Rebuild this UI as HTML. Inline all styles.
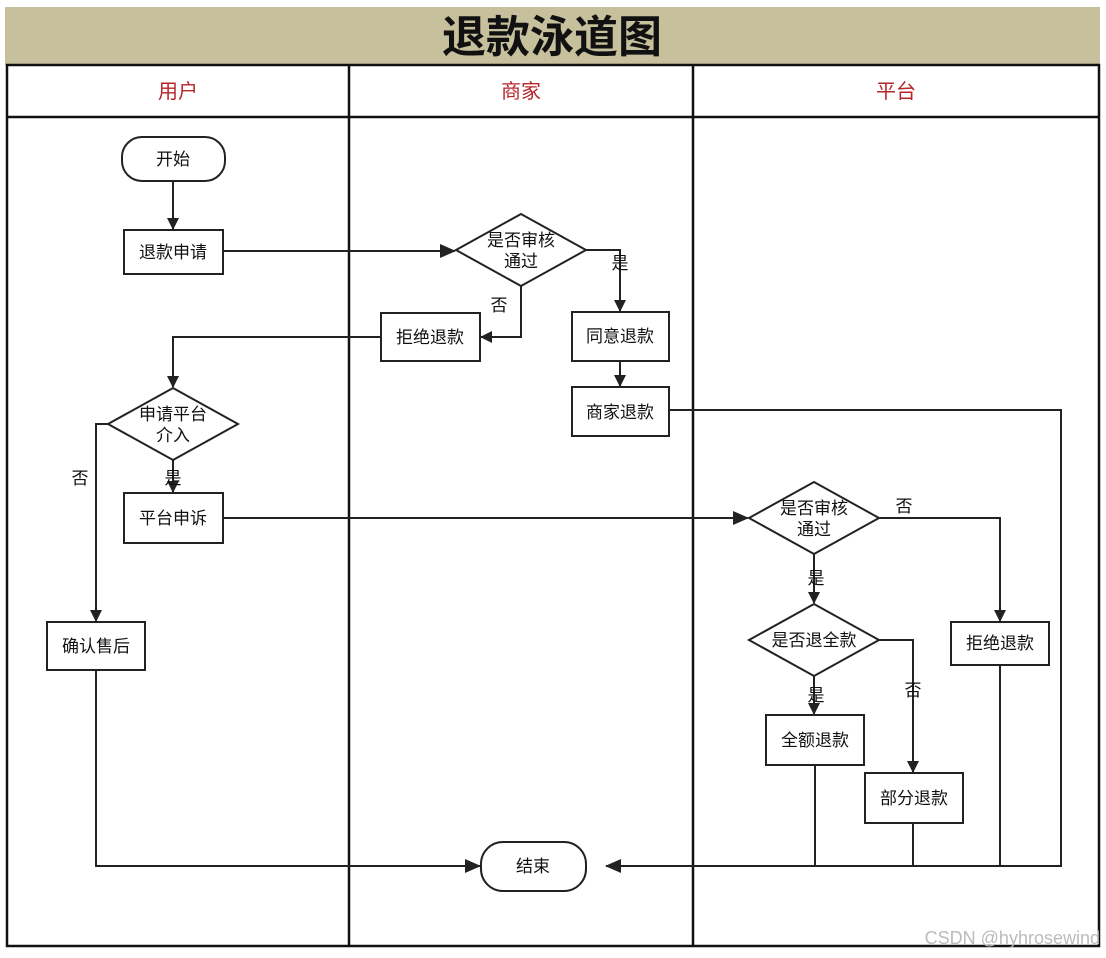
<!DOCTYPE html>
<html><head><meta charset="utf-8"><style>
body{margin:0;background:#fff}
svg{display:block}
text{font-family:"Liberation Sans","Noto Sans CJK SC",sans-serif}
</style></head><body>
<svg width="1106" height="958" viewBox="0 0 1106 958" xmlns="http://www.w3.org/2000/svg">
<defs><marker id="a" markerWidth="12" markerHeight="12" refX="11" refY="6" orient="auto" markerUnits="userSpaceOnUse"><path d="M0,0 L12,6 L0,12 z" fill="#222"/></marker>
<marker id="b" markerWidth="16" markerHeight="14" refX="15" refY="7" orient="auto" markerUnits="userSpaceOnUse"><path d="M0,0 L16,7 L0,14 z" fill="#222"/></marker></defs>
<rect x="5" y="7" width="1095" height="58" fill="#c6c09c"/>
<text x="552" y="52" font-size="44" font-weight="bold" text-anchor="middle" fill="#111">退款泳道图</text>
<g stroke="#111" stroke-width="2.5" fill="none">
<rect x="7" y="65" width="1092" height="881"/>
<line x1="7" y1="117" x2="1099" y2="117"/>
<line x1="349" y1="65" x2="349" y2="946"/>
<line x1="693" y1="65" x2="693" y2="946"/>
</g>
<g font-size="20" fill="#b5252a" text-anchor="middle">
<text x="178" y="98">用户</text><text x="521" y="98">商家</text><text x="896" y="98">平台</text></g>
<g stroke="#222" stroke-width="2" fill="#fff">
<rect x="122" y="137" width="103" height="44" rx="20"/>
<rect x="124" y="230" width="99" height="44"/>
<polygon points="456,250 521,214 586,250 521,286"/>
<rect x="572" y="312" width="97" height="49"/>
<rect x="381" y="313" width="99" height="48"/>
<polygon points="108,424 173,388 238,424 173,460"/>
<rect x="572" y="387" width="97" height="49"/>
<rect x="124" y="493" width="99" height="50"/>
<rect x="47" y="622" width="98" height="48"/>
<rect x="481" y="842" width="105" height="49" rx="22"/>
<polygon points="749,518 814,482 879,518 814,554"/>
<rect x="951" y="622" width="98" height="43"/>
<polygon points="749,640 814,604 879,640 814,676"/>
<rect x="766" y="715" width="98" height="50"/>
<rect x="865" y="773" width="98" height="50"/>
</g>
<g stroke="#222" stroke-width="2" fill="none">
<line x1="173" y1="181" x2="173" y2="229" marker-end="url(#a)"/>
<line x1="223" y1="251" x2="455" y2="251" marker-end="url(#b)"/>
<polyline points="586,250 620,250 620,311" marker-end="url(#a)"/>
<polyline points="521,286 521,337 481,337" marker-end="url(#a)"/>
<polyline points="381,337 173,337 173,387" marker-end="url(#a)"/>
<line x1="620" y1="361" x2="620" y2="386" marker-end="url(#a)"/>
<polyline points="669,410 1061,410 1061,866 606,866" marker-end="url(#b)"/>
<line x1="173" y1="460" x2="173" y2="492" marker-end="url(#a)"/>
<line x1="223" y1="518" x2="748" y2="518" marker-end="url(#b)"/>
<polyline points="108,424 96,424 96,621" marker-end="url(#a)"/>
<polyline points="96,670 96,866 480,866" marker-end="url(#b)"/>
<polyline points="879,518 1000,518 1000,621" marker-end="url(#a)"/>
<line x1="814" y1="554" x2="814" y2="603" marker-end="url(#a)"/>
<polyline points="879,640 913,640 913,772" marker-end="url(#a)"/>
<line x1="814" y1="676" x2="814" y2="714" marker-end="url(#a)"/>
<line x1="815" y1="765" x2="815" y2="866"/>
<line x1="913" y1="823" x2="913" y2="866"/>
<line x1="1000" y1="665" x2="1000" y2="866"/>
</g>
<g font-size="17" fill="#111" text-anchor="middle">
<text x="173" y="165">开始</text>
<text x="173" y="258">退款申请</text>
<text x="521" y="246">是否审核</text><text x="521" y="267">通过</text>
<text x="620" y="342">同意退款</text>
<text x="430" y="343">拒绝退款</text>
<text x="173" y="420">申请平台</text><text x="173" y="441">介入</text>
<text x="620" y="418">商家退款</text>
<text x="173" y="524">平台申诉</text>
<text x="96" y="652">确认售后</text>
<text x="533" y="872">结束</text>
<text x="814" y="514">是否审核</text><text x="814" y="535">通过</text>
<text x="1000" y="649">拒绝退款</text>
<text x="814" y="646">是否退全款</text>
<text x="815" y="746">全额退款</text>
<text x="914" y="804">部分退款</text>
<text x="620" y="269">是</text><text x="499" y="311">否</text>
<text x="173" y="484">是</text><text x="80" y="484">否</text>
<text x="904" y="512">否</text><text x="816" y="584">是</text>
<text x="913" y="696">否</text><text x="816" y="701">是</text>
</g>
<text x="1100" y="944" font-size="18" fill="#bbb" text-anchor="end">CSDN @hyhrosewind</text>
</svg>
</body></html>
